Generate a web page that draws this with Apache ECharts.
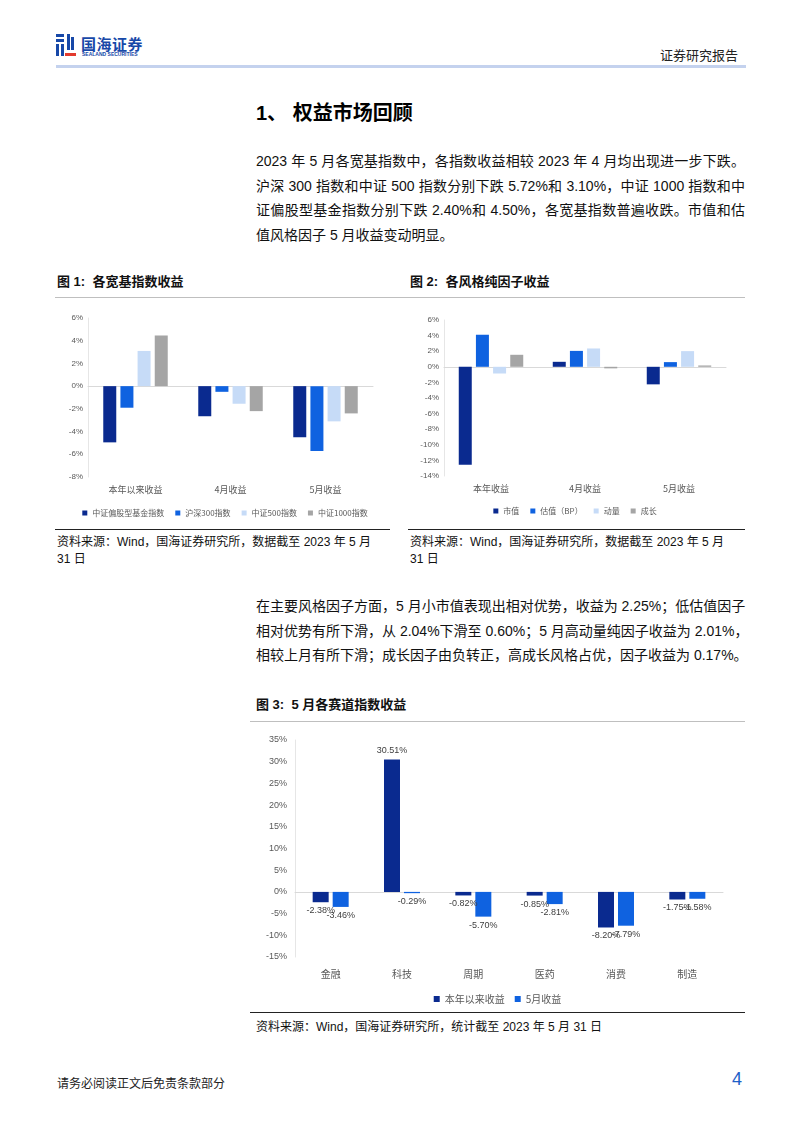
<!DOCTYPE html>
<html><head><meta charset="utf-8">
<script src="https://cdn.jsdelivr.net/npm/echarts@6/dist/echarts.min.js"></script>
<style>
html,body{margin:0;padding:0;background:#fff;}
body{width:802px;height:1133px;position:relative;overflow:hidden;font-family:"Liberation Sans","Noto Sans CJK SC",sans-serif;color:#111;}
.abs{position:absolute;white-space:nowrap;}
.para div{text-align:justify;text-align-last:justify;height:24.6px;line-height:24.6px;}
.para div.last{text-align-last:left;}
.figt{font-weight:bold;font-size:13px;}
.src{font-size:12px;color:#111;}
</style></head>
<body>
<!-- header -->
<div class="abs" style="left:56px;top:34px;width:20px;height:24px;">
  <div style="position:absolute;left:0;top:0;width:8px;height:3px;background:#1748a8"></div>
  <div style="position:absolute;left:0;top:5px;width:8px;height:3px;background:#1748a8"></div>
  <div style="position:absolute;left:0;top:10px;width:3px;height:12px;background:#1748a8"></div>
  <div style="position:absolute;left:5px;top:10px;width:3px;height:12px;background:#1748a8"></div>
  <div style="position:absolute;left:11px;top:0;width:3px;height:16px;background:#1748a8"></div>
  <div style="position:absolute;left:15px;top:3px;width:3px;height:13px;background:#1748a8"></div>
  <div style="position:absolute;left:9px;top:19px;width:11px;height:3px;background:#e23a2e"></div>
</div>
<div class="abs" style="left:81px;top:33px;font-size:15px;font-weight:bold;color:#1748a8;letter-spacing:0.5px;">国海证券</div>
<div class="abs" style="left:82px;top:51px;font-size:5px;font-weight:bold;color:#1748a8;">SEALAND SECURITIES</div>
<div class="abs" style="left:660px;top:45px;font-size:13px;color:#222;">证券研究报告</div>
<div class="abs" style="left:56px;top:65px;width:690px;height:3px;background:#c4d2ee;"></div>

<!-- title -->
<div class="abs" style="left:256px;top:97px;font-size:20px;font-weight:bold;color:#000;">1、&nbsp;权益市场回顾</div>

<div class="abs para" style="left:256px;top:149px;width:489px;font-size:14px;">
<div>2023 年 5 月各宽基指数中，各指数收益相较 2023 年 4 月均出现进一步下跌。</div>
<div>沪深 300 指数和中证 500 指数分别下跌 5.72%和 3.10%，中证 1000 指数和中</div>
<div>证偏股型基金指数分别下跌 2.40%和 4.50%，各宽基指数普遍收跌。市值和估</div>
<div class="last">值风格因子 5 月收益变动明显。</div>
</div>

<div class="abs figt" style="left:57px;top:271px;">图 1:&nbsp; 各宽基指数收益</div>
<div class="abs figt" style="left:410px;top:271px;">图 2:&nbsp; 各风格纯因子收益</div>
<div class="abs" style="left:55px;top:297px;width:690px;height:1px;background:#bfbfbf;"></div>

<div id="c1" class="abs" style="left:55px;top:300px;width:340px;height:225px;"></div>
<div id="c2" class="abs" style="left:405px;top:300px;width:340px;height:225px;"></div>

<div class="abs" style="left:55px;top:529px;width:335px;height:1px;background:#222;"></div>
<div class="abs" style="left:408px;top:529px;width:337px;height:1px;background:#222;"></div>
<div class="abs src" style="left:57px;top:532px;">资料来源：Wind，国海证券研究所，数据截至 2023 年 5 月</div>
<div class="abs src" style="left:57px;top:549px;">31 日</div>
<div class="abs src" style="left:410px;top:532px;">资料来源：Wind，国海证券研究所，数据截至 2023 年 5 月</div>
<div class="abs src" style="left:410px;top:549px;">31 日</div>

<div class="abs para" style="left:256px;top:594px;width:489px;font-size:14px;">
<div>在主要风格因子方面，5 月小市值表现出相对优势，收益为 2.25%；低估值因子</div>
<div>相对优势有所下滑，从 2.04%下滑至 0.60%；5 月高动量纯因子收益为 2.01%，</div>
<div class="last">相较上月有所下滑；成长因子由负转正，高成长风格占优，因子收益为 0.17%。</div>
</div>

<div class="abs figt" style="left:256px;top:694px;">图 3:&nbsp; 5 月各赛道指数收益</div>
<div class="abs" style="left:250px;top:721px;width:495px;height:1px;background:#bfbfbf;"></div>
<div id="c3" class="abs" style="left:250px;top:725px;width:495px;height:285px;"></div>
<div class="abs" style="left:250px;top:1012px;width:495px;height:1px;background:#222;"></div>
<div class="abs src" style="left:256px;top:1017px;">资料来源：Wind，国海证券研究所，统计截至 2023 年 5 月 31 日</div>

<div class="abs" style="left:57px;top:1074px;font-size:12px;color:#222;">请务必阅读正文后免责条款部分</div>
<div class="abs" style="left:732px;top:1069px;font-size:18px;color:#1f5fc7;">4</div>

<script>
// ---------- Data ----------
const c1Categories = ['本年以来收益', '4月收益', '5月收益'];
const c1SeriesNames = ['中证偏股型基金指数', '沪深300指数', '中证500指数', '中证1000指数'];
const c1Fund = [-4.95, -2.65, -4.50];
const c1HS300 = [-1.90, -0.50, -5.72];
const c1ZZ500 = [3.10, -1.55, -3.10];
const c1ZZ1000 = [4.46, -2.20, -2.40];
const c1Ticks = [-8, 6, 2];

const c2Categories = ['本年收益', '4月收益', '5月收益'];
const c2SeriesNames = ['市值', '估值（BP）', '动量', '成长'];
const c2Size = [-12.55, 0.64, -2.25];
const c2Value = [4.11, 2.04, 0.60];
const c2Momentum = [-0.86, 2.35, 2.01];
const c2Growth = [1.54, -0.20, 0.17];
const c2Ticks = [-14, 6, 2];

const c3Categories = ['金融', '科技', '周期', '医药', '消费', '制造'];
const c3SeriesNames = ['本年以来收益', '5月收益'];
const c3YTD = [-2.38, 30.51, -0.82, -0.85, -8.20, -1.75];
const c3May = [-3.46, -0.29, -5.70, -2.81, -7.79, -1.58];
const c3Ticks = [-15, 35, 5];

const colors = ['#0a2a8f', '#0f62e0', '#c6dbf7', '#a5a5a5'];
const axisLabelColor = '#595959';
const catFont = '"Noto Sans CJK SC", sans-serif';
const numFont = '"Liberation Sans", Arial, sans-serif';

function baseOpt(cats, ticks, grid, legendTop, legendNames, legendGap) {
  return {
    animation: false,
    color: colors,
    grid: grid,
    legend: {
      data: legendNames, top: legendTop, left: 'center', itemWidth: 5, itemHeight: 5, itemGap: legendGap,
      icon: 'rect', textStyle: { fontSize: 8, color: axisLabelColor, fontFamily: catFont }
    },
    xAxis: {
      type: 'category', data: cats,
      axisLine: { lineStyle: { color: '#d9d9d9', width: 1 } },
      axisTick: { show: false },
      axisLabel: { color: axisLabelColor, fontSize: 9, fontFamily: catFont, margin: 8 },
    },
    yAxis: {
      type: 'value', min: ticks[0], max: ticks[1], interval: ticks[2],
      axisLine: { show: true, lineStyle: { color: '#e6e6e6' } },
      axisTick: { show: false },
      splitLine: { show: false },
      axisLabel: { color: axisLabelColor, fontSize: 8, fontFamily: numFont, margin: 5, formatter: v => v + '%' }
    }
  };
}

// Chart 1
(function(){
  const ch = echarts.init(document.getElementById('c1'));
  const o = baseOpt(c1Categories, c1Ticks, { left: 33, right: 22, top: 18, height: 159 }, 204, c1SeriesNames, 11);
  const arrs = [c1Fund, c1HS300, c1ZZ500, c1ZZ1000];
  o.series = arrs.map((d, i) => ({ name: c1SeriesNames[i], type: 'bar', data: d, barWidth: 13, barGap: '32%' }));
  ch.setOption(o);
})();

// Chart 2
(function(){
  const ch = echarts.init(document.getElementById('c2'));
  const o = baseOpt(c2Categories, c2Ticks, { left: 39, right: 19, top: 20, height: 156 }, 202, c2SeriesNames, 11);
  const arrs = [c2Size, c2Value, c2Momentum, c2Growth];
  o.series = arrs.map((d, i) => ({ name: c2SeriesNames[i], type: 'bar', data: d, barWidth: 13, barGap: '32%' }));
  ch.setOption(o);
})();

// Chart 3
(function(){
  const ch = echarts.init(document.getElementById('c3'));
  const o = baseOpt(c3Categories, c3Ticks, { left: 45, right: 22, top: 15, height: 217 }, 264, c3SeriesNames, 10);
  o.xAxis.axisLabel.fontSize = 10;
  o.xAxis.axisLabel.margin = 12;
  o.yAxis.axisLabel.fontSize = 9;
  o.yAxis.axisLabel.margin = 8;
  o.legend.textStyle.fontSize = 10;
  o.legend.itemWidth = 6; o.legend.itemHeight = 6;
  const arrs = [c3YTD, c3May];
  o.series = arrs.map((d, i) => ({
    name: c3SeriesNames[i], type: 'bar', barWidth: 16, barGap: '25%',
    data: d.map(v => ({ value: v, label: { position: v >= 0 ? 'top' : 'bottom' } })),
    label: {
      show: true, fontSize: 9, color: '#404040', fontFamily: numFont, distance: 4,
      formatter: p => { const v = p.value; return (v < 0 ? '-' : '') + Math.abs(v).toFixed(2) + '%'; }
    }
  }));
  ch.setOption(o);
})();
</script>
</body></html>
